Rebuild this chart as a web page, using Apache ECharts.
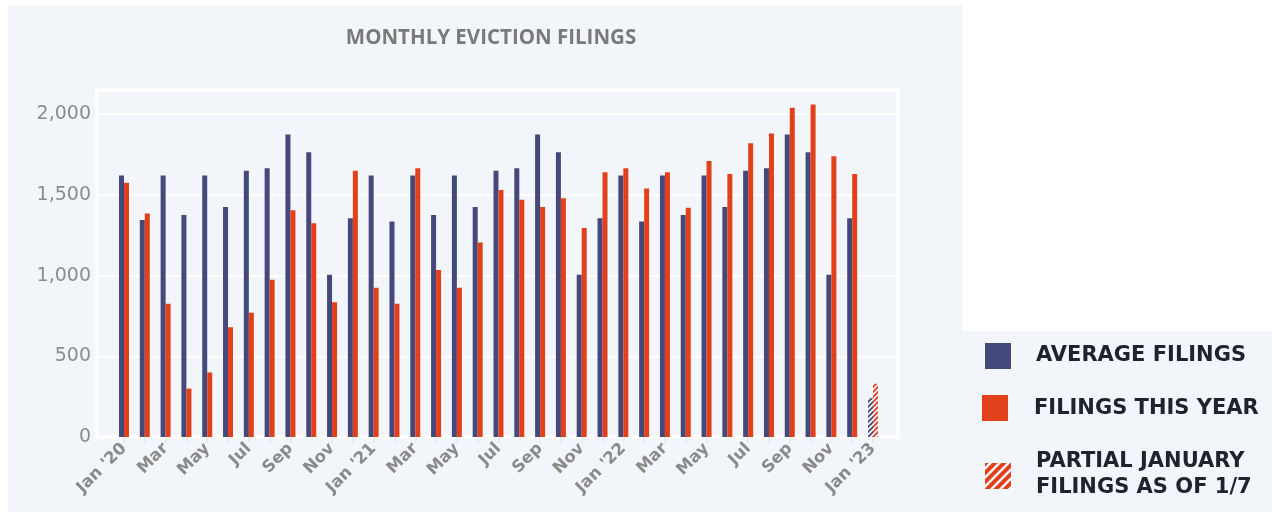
<!DOCTYPE html>
<html>
<head>
<meta charset="utf-8">
<script src="https://cdn.jsdelivr.net/npm/echarts@6/dist/echarts.min.js"></script>
<style>
    html, body { margin: 0; padding: 0; background: #fff; }
    #filings { width: 1272px; height: 514px; }
</style>
</head>
<body>
<div id="filings"></div>
<script>
// months Jan '20 .. Jan '23
const months = [
    "Jan '20", 'Feb', 'Mar', 'Apr', 'May', 'Jun', 'Jul', 'Aug', 'Sep', 'Oct', 'Nov', 'Dec',
    "Jan '21", 'Feb', 'Mar', 'Apr', 'May', 'Jun', 'Jul', 'Aug', 'Sep', 'Oct', 'Nov', 'Dec',
    "Jan '22", 'Feb', 'Mar', 'Apr', 'May', 'Jun', 'Jul', 'Aug', 'Sep', 'Oct', 'Nov', 'Dec',
    "Jan '23"
];
const averageFilings = [
    1620, 1345, 1620, 1375, 1620, 1425, 1650, 1665, 1875, 1765, 1005, 1355,
    1620, 1335, 1620, 1375, 1620, 1425, 1650, 1665, 1875, 1765, 1005, 1355,
    1620, 1335, 1620, 1375, 1620, 1425, 1650, 1665, 1875, 1765, 1005, 1355
];
const filingsThisYear = [
    1575, 1385, 825, 300, 400, 680, 770, 975, 1405, 1325, 835, 1650,
    925, 825, 1665, 1035, 925, 1205, 1530, 1470, 1425, 1480, 1295, 1640,
    1665, 1540, 1640, 1420, 1710, 1630, 1820, 1880, 2040, 2060, 1740, 1630
];
// partial january (as of 1/7)
const partialAverage = 242;
const partialFilings = 330;
const yTicks = [0, 500, 1000, 1500, 2000];

const NAVY = '#45487a';
const RED = '#e2401a';
const BG = '#f2f6fa';

// striped fill for the partial month
function stripes(color, size, width) {
    let c = document.createElement('canvas');
    c.width = size; c.height = size;
    let ctx = c.getContext('2d');
    ctx.fillStyle = BG;
    ctx.fillRect(0, 0, size, size);
    ctx.strokeStyle = color;
    ctx.lineWidth = width;
    ctx.beginPath();
    ctx.moveTo(0, size); ctx.lineTo(size, 0);
    ctx.moveTo(-size / 2, size / 2); ctx.lineTo(size / 2, -size / 2);
    ctx.moveTo(size / 2, size * 1.5); ctx.lineTo(size * 1.5, size / 2);
    ctx.stroke();
    return c;
}

let avgData = averageFilings.concat([{
    value: partialAverage,
    itemStyle: { color: { image: stripes(NAVY, 5, 1.8), repeat: 'repeat' } }
}]);
let yearData = filingsThisYear.concat([{
    value: partialFilings,
    itemStyle: { color: { image: stripes(RED, 5, 1.8), repeat: 'repeat' } }
}]);

let myChart = echarts.init(document.getElementById('filings'));
const legendFont = 'bold 21px "DejaVu Sans"';

myChart.setOption({
    animation: false,
    title: {
        text: 'MONTHLY EVICTION FILINGS',
        left: 486,
        top: 23,
        textAlign: 'center',
        textStyle: { fontFamily: 'Open Sans', fontWeight: 'bold', fontSize: 20.5, color: '#7a7a7a' }
    },
    graphic: [
        { type: 'rect', z: -10, shape: { x: 8, y: 5, width: 954, height: 507 }, style: { fill: BG } },
        { type: 'rect', z: -10, shape: { x: 962, y: 331, width: 310, height: 181 }, style: { fill: BG } },
        { type: 'rect', shape: { x: 985, y: 343, width: 26, height: 26 }, style: { fill: NAVY } },
        { type: 'text', x: 1036, y: 356, style: { text: 'AVERAGE FILINGS', font: legendFont, fill: '#20222e', textVerticalAlign: 'middle' } },
        { type: 'rect', shape: { x: 982, y: 395, width: 26, height: 26 }, style: { fill: RED } },
        { type: 'text', x: 1034, y: 409, style: { text: 'FILINGS THIS YEAR', font: legendFont, fill: '#20222e', textVerticalAlign: 'middle' } },
        { type: 'rect', shape: { x: 985, y: 463, width: 26, height: 26 }, style: { fill: { image: stripes(RED, 9, 4), repeat: 'repeat' } } },
        { type: 'text', x: 1036, y: 462, style: { text: 'PARTIAL JANUARY', font: legendFont, fill: '#20222e', textVerticalAlign: 'middle' } },
        { type: 'text', x: 1036, y: 488, style: { text: 'FILINGS AS OF 1/7', font: legendFont, fill: '#20222e', textVerticalAlign: 'middle' } }
    ],
    grid: [
        // frame with the value gridlines
        { left: 97, right: 374, top: 90, bottom: 77, show: true, borderColor: '#fff', borderWidth: 3, backgroundColor: 'transparent' },
        // bars
        { left: 113.6, right: 388.6, top: 90, bottom: 77 }
    ],
    xAxis: [
        { gridIndex: 0, type: 'value', show: false, min: 0, max: 1 },
        {
            gridIndex: 1,
            type: 'category',
            data: months,
            axisLine: { show: false },
            axisTick: { show: true, alignWithLabel: true, interval: 0, length: 6, lineStyle: { color: '#e3e8ee', width: 1.5 } },
            axisLabel: {
                interval: 1,
                rotate: 45,
                margin: 9,
                fontFamily: 'DejaVu Sans',
                fontWeight: 'bold',
                fontSize: 16.5,
                color: '#8a8a8a'
            }
        }
    ],
    yAxis: [
        {
            gridIndex: 0,
            type: 'value',
            min: 0,
            max: 2150,
            interval: 500,
            axisLine: { show: false },
            axisTick: { show: false },
            splitLine: { lineStyle: { color: '#fff', width: 2 } },
            axisLabel: {
                showMaxLabel: false,
                margin: 6,
                fontFamily: 'DejaVu Sans',
                fontSize: 19,
                color: '#8c8c8c',
                formatter: v => yTicks.indexOf(v) >= 0 ? v.toLocaleString('en-US') : ''
            }
        },
        { gridIndex: 1, type: 'value', min: 0, max: 2150, show: false, splitLine: { show: false } }
    ],
    series: [
        {
            name: 'Average Filings',
            type: 'bar',
            xAxisIndex: 1,
            yAxisIndex: 1,
            barWidth: 5,
            barGap: '0%',
            itemStyle: { color: NAVY },
            data: avgData
        },
        {
            name: 'Filings This Year',
            type: 'bar',
            xAxisIndex: 1,
            yAxisIndex: 1,
            barWidth: 5,
            barGap: '0%',
            itemStyle: { color: RED },
            data: yearData
        }
    ]
});
</script>
</body>
</html>
